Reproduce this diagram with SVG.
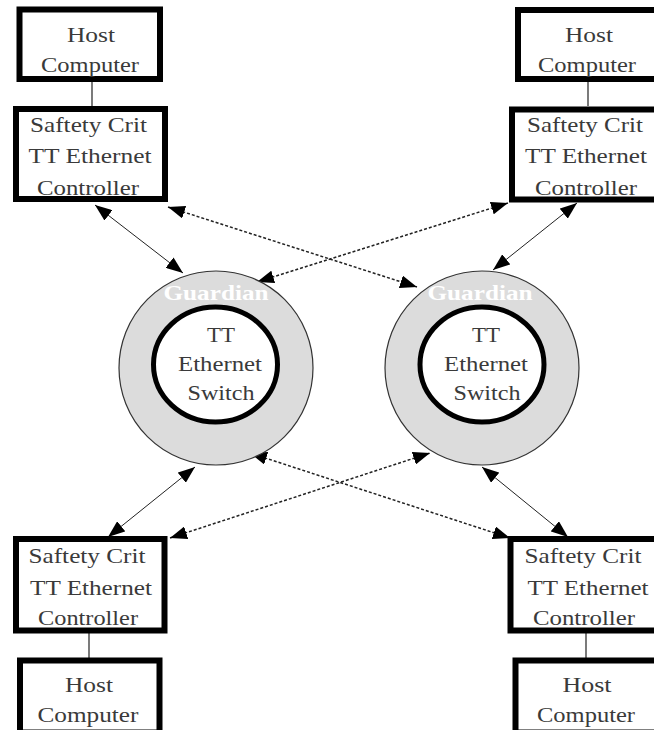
<svg xmlns="http://www.w3.org/2000/svg" width="654" height="730" viewBox="0 0 654 730">
<defs>
<marker id="ah" viewBox="0 0 17 13" refX="17" refY="6.5" markerWidth="17" markerHeight="13" markerUnits="userSpaceOnUse" orient="auto-start-reverse">
<path d="M0,0 L17,6.5 L0,13 z" fill="#000"/>
</marker>
</defs>
<style>
.box{fill:#fff;stroke:#000;stroke-width:6}
.lbl{font-family:"Liberation Serif","Times New Roman",serif;font-size:21px;fill:#3a3a3a;text-anchor:middle}
.grd{font-family:"Liberation Serif","Times New Roman",serif;font-size:21px;font-weight:bold;fill:#fff;text-anchor:middle}
.outer{fill:#dcdcdc;stroke:#333;stroke-width:1.2}
.inner{fill:#fff;stroke:#000;stroke-width:5}
.link{stroke:#222;stroke-width:1.2;fill:none}
.solid{stroke:#222;stroke-width:1;fill:none;marker-start:url(#ah);marker-end:url(#ah)}
.dot{stroke:#222;stroke-width:1.5;stroke-dasharray:3 2;fill:none;marker-start:url(#ah);marker-end:url(#ah)}
</style>
<rect width="654" height="730" fill="#fff"/>
<g id="connectors">
<line class="link" x1="92" y1="82" x2="92" y2="106"/>
<line class="link" x1="588" y1="82" x2="588" y2="106"/>
<line class="link" x1="89" y1="633" x2="89" y2="658"/>
<line class="link" x1="586" y1="633" x2="586" y2="658"/>
<line class="solid" x1="95" y1="205" x2="183" y2="273"/>
<line class="dot" x1="168" y1="207" x2="417" y2="287"/>
<line class="dot" x1="508" y1="203" x2="257" y2="282"/>
<line class="solid" x1="577" y1="203" x2="493" y2="270"/>
<line class="solid" x1="195" y1="467" x2="108" y2="537"/>
<line class="dot" x1="250" y1="453" x2="510" y2="538"/>
<line class="dot" x1="170" y1="538" x2="430" y2="453"/>
<line class="solid" x1="482" y1="467" x2="568" y2="537"/>
</g>
<g id="host-tl">
<rect class="box" x="19.5" y="9.5" width="140.5" height="69.5"/>
<text class="lbl" x="91" y="42" textLength="48" lengthAdjust="spacingAndGlyphs">Host</text>
<text class="lbl" x="90" y="72" textLength="98" lengthAdjust="spacingAndGlyphs">Computer</text>
</g>
<g id="ctrl-tl">
<rect class="box" x="16" y="109" width="149" height="90"/>
<text class="lbl" x="88.5" y="132" textLength="117" lengthAdjust="spacingAndGlyphs">Saftety Crit</text>
<text class="lbl" x="90" y="163" textLength="123" lengthAdjust="spacingAndGlyphs">TT Ethernet</text>
<text class="lbl" x="88" y="195" textLength="102" lengthAdjust="spacingAndGlyphs">Controller</text>
</g>
<g id="host-tr">
<rect class="box" x="518" y="10" width="140" height="69"/>
<text class="lbl" x="589" y="42" textLength="48" lengthAdjust="spacingAndGlyphs">Host</text>
<text class="lbl" x="587" y="72" textLength="98" lengthAdjust="spacingAndGlyphs">Computer</text>
</g>
<g id="ctrl-tr">
<rect class="box" x="512" y="109.5" width="146" height="90"/>
<text class="lbl" x="585" y="132" textLength="116" lengthAdjust="spacingAndGlyphs">Saftety Crit</text>
<text class="lbl" x="586" y="163" textLength="122" lengthAdjust="spacingAndGlyphs">TT Ethernet</text>
<text class="lbl" x="586" y="195" textLength="102" lengthAdjust="spacingAndGlyphs">Controller</text>
</g>
<g id="switch-l">
<circle class="outer" cx="216" cy="368" r="97"/>
<text class="grd" x="216" y="300" textLength="105" lengthAdjust="spacingAndGlyphs">Guardian</text>
<ellipse class="inner" cx="215.5" cy="364.5" rx="62" ry="57.5"/>
<text class="lbl" x="221" y="342" textLength="28" lengthAdjust="spacingAndGlyphs">TT</text>
<text class="lbl" x="220" y="371" textLength="84" lengthAdjust="spacingAndGlyphs">Ethernet</text>
<text class="lbl" x="221" y="400" textLength="67" lengthAdjust="spacingAndGlyphs">Switch</text>
</g>
<g id="switch-r">
<circle class="outer" cx="482" cy="368" r="97"/>
<text class="grd" x="480" y="300" textLength="105" lengthAdjust="spacingAndGlyphs">Guardian</text>
<ellipse class="inner" cx="482" cy="364.5" rx="62" ry="57.5"/>
<text class="lbl" x="486" y="342" textLength="28" lengthAdjust="spacingAndGlyphs">TT</text>
<text class="lbl" x="486" y="371" textLength="84" lengthAdjust="spacingAndGlyphs">Ethernet</text>
<text class="lbl" x="487" y="400" textLength="67" lengthAdjust="spacingAndGlyphs">Switch</text>
</g>
<g id="ctrl-bl">
<rect class="box" x="16" y="539" width="148.5" height="91.5"/>
<text class="lbl" x="87" y="563" textLength="117" lengthAdjust="spacingAndGlyphs">Saftety Crit</text>
<text class="lbl" x="91" y="595" textLength="122" lengthAdjust="spacingAndGlyphs">TT Ethernet</text>
<text class="lbl" x="88" y="625" textLength="100" lengthAdjust="spacingAndGlyphs">Controller</text>
</g>
<g id="host-bl">
<rect class="box" x="20" y="660.5" width="139.5" height="72"/>
<text class="lbl" x="89" y="692" textLength="48" lengthAdjust="spacingAndGlyphs">Host</text>
<text class="lbl" x="88" y="722" textLength="101" lengthAdjust="spacingAndGlyphs">Computer</text>
</g>
<g id="ctrl-br">
<rect class="box" x="510.5" y="539" width="147.5" height="91.5"/>
<text class="lbl" x="583" y="563" textLength="117" lengthAdjust="spacingAndGlyphs">Saftety Crit</text>
<text class="lbl" x="588" y="595" textLength="121" lengthAdjust="spacingAndGlyphs">TT Ethernet</text>
<text class="lbl" x="584" y="625" textLength="102" lengthAdjust="spacingAndGlyphs">Controller</text>
</g>
<g id="host-br">
<rect class="box" x="515.5" y="660.5" width="142.5" height="72"/>
<text class="lbl" x="587" y="692" textLength="49" lengthAdjust="spacingAndGlyphs">Host</text>
<text class="lbl" x="586" y="722" textLength="98" lengthAdjust="spacingAndGlyphs">Computer</text>
</g>
</svg>
